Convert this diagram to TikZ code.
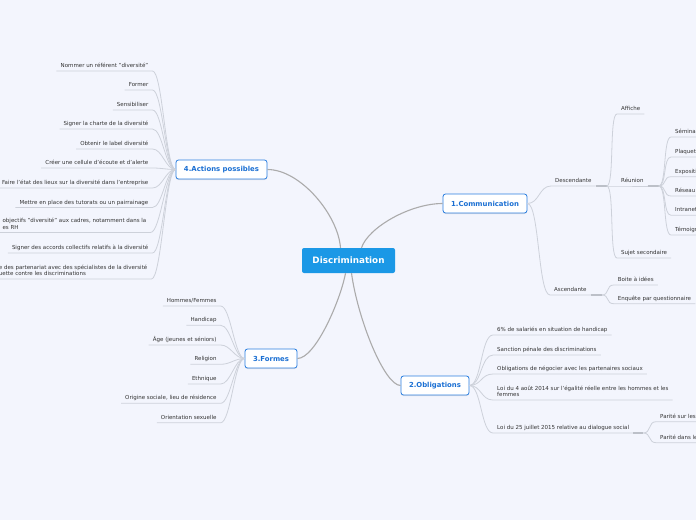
\documentclass[tikz,border=0pt]{standalone}
\usepackage{fontspec}
\setmainfont{DejaVu Sans}
\usetikzlibrary{calc,shadows}
\definecolor{bg}{HTML}{F3F5FD}
\definecolor{mainblue}{HTML}{1B98E6}
\definecolor{subblue}{HTML}{2B7FE0}
\definecolor{subtext}{HTML}{1A6FD3}
\definecolor{leaftext}{HTML}{333333}
\definecolor{mainline}{HTML}{ABABAB}
\definecolor{leafline}{HTML}{CDD1DA}
\definecolor{stubline}{HTML}{BCC0C8}
\newcommand\lffont{\fontsize{5.5}{6.4}\selectfont}
\begin{document}
\begin{tikzpicture}[x=1pt,y=-1pt,
 rootbox/.style={fill=mainblue, text=white, font=\fontsize{8.8}{10}\selectfont\bfseries, rounded corners=2pt, minimum width=93pt, minimum height=25pt, inner sep=0pt},
 topicbox/.style={draw=subblue, line width=0.8pt, fill=white, text=subtext, font=\fontsize{6.9}{8}\selectfont\bfseries, rounded corners=2.5pt, minimum height=19pt, inner xsep=8pt, inner ysep=0pt, drop shadow={shadow xshift=0pt, shadow yshift=-1pt, opacity=0.2}},
 leaf/.style={font=\lffont, text=leaftext, inner xsep=4pt, inner ysep=2.8pt, text height=4.8pt, text depth=0.4pt},
 leaftwo/.style={font=\lffont, text=leaftext, inner xsep=4pt, inner ysep=2.8pt, text depth=0.4pt, align=left},
 mainconn/.style={draw=mainline, line width=1.1pt},
 leafconn/.style={draw=leafline, line width=0.8pt},
 stub/.style={draw=stubline, line width=1.3pt},
]
\path[use as bounding box, fill=bg] (0,0) rectangle (696,520);
\clip (0,0) rectangle (696,520);

% main nodes
\node[rootbox] (disc) at (348.5,260.5) {Discrimination};
\node[topicbox] (com) at (485,203.5) {1.Communication};
\node[topicbox] (obl) at (435,385.5) {2.Obligations};
\node[topicbox] (form) at (271,358.5) {3.Formes};
\node[topicbox] (act) at (221.5,169.5) {4.Actions possibles};

% main connectors
\draw[mainconn] ($(disc.north)+(-8,0)$) .. controls +(-2.5,-33) and +(33,0) .. (act.east);
\draw[mainconn] ($(disc.north)+(13,0)$) .. controls +(6.5,-20) and +(-33,0) .. (com.west);
\draw[mainconn] ($(disc.south)+(-3,0)$) .. controls +(-5,27) and +(18,0) .. (form.east);
\draw[mainconn] ($(disc.south)+(3,0)$) .. controls +(6.5,47) and +(-16,0) .. (obl.west);

% 4. Actions possibles
\node[leaf, anchor=south east] (a1) at (152.5,71) {Nommer un référent "diversité"};
\node[leaf, anchor=south east] (a2) at (152.5,90) {Former};
\node[leaf, anchor=south east] (a3) at (152.5,110) {Sensibiliser};
\node[leaf, anchor=south east] (a4) at (152.5,129) {Signer la charte de la diversité};
\node[leaf, anchor=south east] (a5) at (152.5,149) {Obtenir le label diversité};
\node[leaf, anchor=south east] (a6) at (152.5,168) {Créer une cellule d'écoute et d'alerte};
\node[leaf, anchor=south east] (a7) at (152.5,188) {Faire l'état des lieux sur la diversité dans l'entreprise};
\node[leaf, anchor=south east] (a8) at (152.5,207.5) {Mettre en place des tutorats ou un pairrainage};
\node[leaftwo, anchor=south east] (a9) at (150.5,232.5) {objectifs "diversité" aux cadres, notamment dans la\\es RH};
\node[leaf, anchor=south east] (a10) at (152.5,253) {Signer des accords collectifs relatifs à la diversité};
\node[leaftwo, anchor=south east] (a11) at (151.5,279) {e des partenariat avec des spécialistes de la diversité\\uette contre les discriminations};
\foreach \n in {a1,a2,a3,a4,a5,a6,a7,a8,a9,a10,a11}
  \draw[leafconn] (\n.south west) -- (\n.south east) .. controls +(10,0) and +(-10,0) .. (act.west);

% 3. Formes
\node[leaf, anchor=south east] (f1) at (220.7,306) {Hommes/Femmes};
\node[leaf, anchor=south east] (f2) at (220.7,325.3) {Handicap};
\node[leaf, anchor=south east] (f3) at (220.7,345) {Âge (jeunes et séniors)};
\node[leaf, anchor=south east] (f4) at (220.7,364.3) {Religion};
\node[leaf, anchor=south east] (f5) at (220.7,384) {Ethnique};
\node[leaf, anchor=south east] (f6) at (220.7,403.3) {Origine sociale, lieu de résidence};
\node[leaf, anchor=south east] (f7) at (220.7,422.7) {Orientation sexuelle};
\foreach \n in {f1,f2,f3,f4,f5,f6,f7}
  \draw[leafconn] (\n.south west) -- (\n.south east) .. controls +(10,0) and +(-10,0) .. (form.west);

% 2. Obligations
\node[leaf, anchor=south west] (o1) at (493,335) {6\% de salariés en situation de handicap};
\node[leaf, anchor=south west] (o2) at (493,355) {Sanction pénale des discriminations};
\node[leaf, anchor=south west] (o3) at (493,374) {Obligations de négocier avec les partenaires sociaux};
\node[leaftwo, anchor=south west] (o4) at (493,400) {Loi du 4 août 2014 sur l'égalité réelle entre les hommes et les\\femmes};
\node[leaf, anchor=south west] (o5) at (493,433) {Loi du 25 juillet 2015 relative au dialogue social};
\foreach \n in {o1,o2,o3,o4,o5}
  \draw[leafconn] (obl.east) .. controls +(12,0) and +(-12,0) .. (\n.south west) -- (\n.south east);
\coordinate (o5e) at ($(o5.south east)+(10,0)$);
\draw[stub] (o5.south east) -- (o5e);
\node[leaf, anchor=south west] (p1) at (656,421.7) {Parité sur les};
\node[leaf, anchor=south west] (p2) at (656,442.7) {Parité dans les};
\foreach \n in {p1,p2}
  \draw[leafconn] (o5e) .. controls +(8,0) and +(-8,0) .. (\n.south west) -- (\n.south east);

% 1. Communication
\node[leaf, anchor=south west] (desc) at (551,186) {Descendante};
\node[leaf, anchor=south west] (asc) at (550,295) {Ascendante};
\foreach \n in {desc,asc}
  \draw[leafconn] (com.east) .. controls +(12,0) and +(-12,0) .. (\n.south west) -- (\n.south east);
\coordinate (desce) at ($(desc.south east)+(11,0)$);
\draw[stub] (desc.south east) -- (desce);
\coordinate (asce) at ($(asc.south east)+(11,0)$);
\draw[stub] (asc.south east) -- (asce);

\node[leaf, anchor=south west] (c1) at (617,114) {Affiche};
\node[leaf, anchor=south west] (c2) at (617,186) {Réunion};
\node[leaf, anchor=south west] (c3) at (617,258) {Sujet secondaire};
\foreach \n in {c1,c2,c3}
  \draw[leafconn] (desce) .. controls +(8,0) and +(-8,0) .. (\n.south west) -- (\n.south east);
\coordinate (c2e) at ($(c2.south east)+(11,0)$);
\draw[stub] (c2.south east) -- (c2e);

\node[leaf, anchor=south west] (r1) at (671,137) {Séminaire};
\node[leaf, anchor=south west] (r2) at (671,157) {Plaquette};
\node[leaf, anchor=south west] (r3) at (671,176.7) {Exposition};
\node[leaf, anchor=south west] (r4) at (671,196) {Réseau};
\node[leaf, anchor=south west] (r5) at (671,215.3) {Intranet};
\node[leaf, anchor=south west] (r6) at (671,235) {Témoignage};
\foreach \n in {r1,r2,r3,r4,r5,r6}
  \draw[leafconn] (c2e) .. controls +(8,0) and +(-8,0) .. (\n.south west) -- (\n.south east);

\node[leaf, anchor=south west] (b1) at (613.7,285) {Boite à idées};
\node[leaf, anchor=south west] (b2) at (613.7,303.7) {Enquête par questionnaire};
\foreach \n in {b1,b2}
  \draw[leafconn] (asce) .. controls +(8,0) and +(-8,0) .. (\n.south west) -- (\n.south east);
\end{tikzpicture}
\end{document}
